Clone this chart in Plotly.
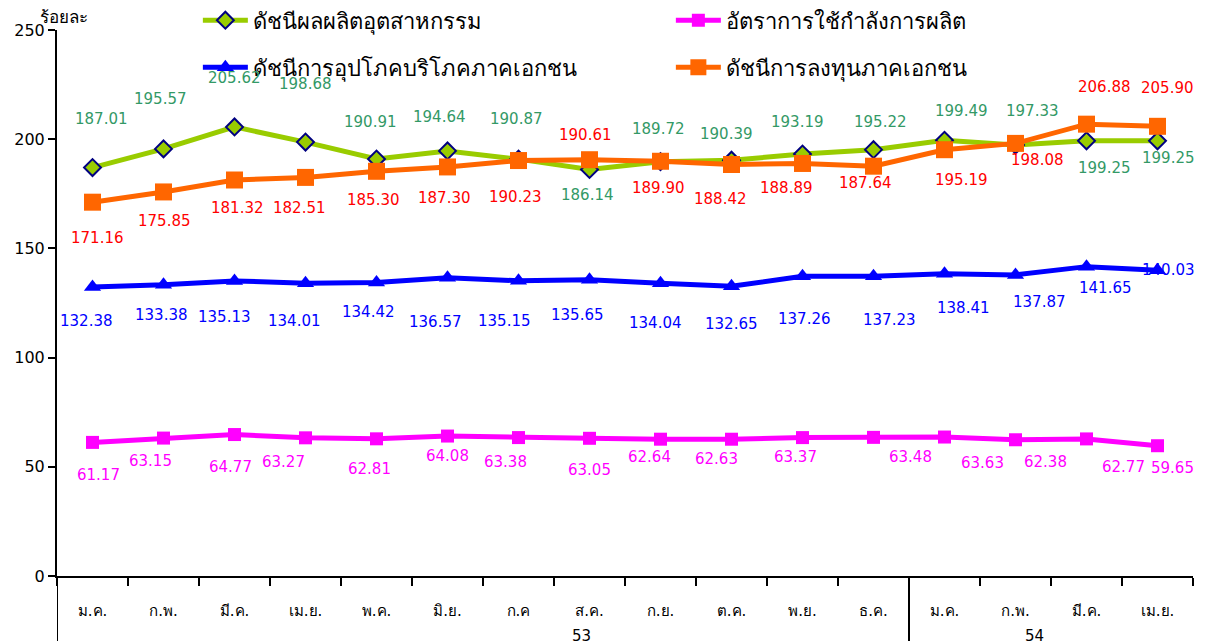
import plotly.graph_objects as go

months = ["ม.ค.", "ก.พ.", "มี.ค.", "เม.ย.", "พ.ค.", "มิ.ย.", "ก.ค", "ส.ค.",
          "ก.ย.", "ต.ค.", "พ.ย.", "ธ.ค.", "ม.ค.", "ก.พ.", "มี.ค.", "เม.ย."]
years = ["53", "54"]

industrial = [187.01, 195.57, 205.62, 198.68, 190.91, 194.64, 190.87, 186.14,
              189.72, 190.39, 193.19, 195.22, 199.49, 197.33, 199.25, 199.25]
capacity = [61.17, 63.15, 64.77, 63.27, 62.81, 64.08, 63.38, 63.05,
            62.64, 62.63, 63.37, 63.48, 63.63, 62.38, 62.77, 59.65]
consumption = [132.38, 133.38, 135.13, 134.01, 134.42, 136.57, 135.15, 135.65,
               134.04, 132.65, 137.26, 137.23, 138.41, 137.87, 141.65, 140.03]
investment = [171.16, 175.85, 181.32, 182.51, 185.30, 187.30, 190.23, 190.61,
              189.90, 188.42, 188.89, 187.64, 195.19, 198.08, 206.88, 205.90]

names = ["ดัชนีผลผลิตอุตสาหกรรม", "อัตราการใช้กำลังการผลิต",
         "ดัชนีการอุปโภคบริโภคภาคเอกชน", "ดัชนีการลงทุนภาคเอกชน"]

# label offsets (pixels): (dx, dy up)
off_ind = [(9, 49), (-3, 50), (0, 49), (0, 58), (-6, 37), (-8, 34), (-2, 40), (-2, -26),
           (-2, 33), (-5, 26), (-5, 32), (7, 28), (17, 29), (17, 34), (18, -27), (11, -17)]
off_inv = [(5, -36), (1, -29), (3, -28), (-6, -31), (-3, -29), (-3, -31), (-3, -36), (-4, 25),
           (-2, -27), (-11, -35), (-16, -25), (-8, -17), (17, -30), (22, -17), (18, 37), (10, 38)]
off_con = [(-6, -34), (-2, -30), (-10, -36), (-11, -38), (-8, -30), (-12, -44), (-14, -40), (-12, -35),
           (-5, -40), (0, -38), (2, -43), (16, -44), (19, -34), (24, -27), (19, -21), (11, 0)]
off_cap = [(6, -33), (-13, -23), (-4, -32), (-22, -24), (-7, -30), (0, -20), (-13, -24), (0, -32),
           (-11, -18), (-15, -20), (-7, -19), (37, -20), (38, -26), (30, -22), (37, -28), (15, -22)]

x = list(range(len(months)))
FONT = "Tahoma, DejaVu Sans, sans-serif"

fig = go.Figure()
fig.add_trace(go.Scatter(x=x, y=industrial, name=names[0], mode="lines+markers",
                         line=dict(color="#99cc00", width=5),
                         marker=dict(symbol="diamond", size=13, color="#99cc00",
                                     line=dict(color="#000080", width=2)),
                         legend="legend"))
fig.add_trace(go.Scatter(x=x, y=capacity, name=names[1], mode="lines+markers",
                         line=dict(color="#ff00ff", width=5),
                         marker=dict(symbol="square", size=13, color="#ff00ff"),
                         legend="legend"))
fig.add_trace(go.Scatter(x=x, y=consumption, name=names[2], mode="lines+markers",
                         line=dict(color="#0000ff", width=5),
                         marker=dict(symbol="triangle-up", size=15, color="#0000ff"),
                         legend="legend2"))
fig.add_trace(go.Scatter(x=x, y=investment, name=names[3], mode="lines+markers",
                         line=dict(color="#ff6600", width=5),
                         marker=dict(symbol="square", size=17, color="#ff6600"),
                         legend="legend2"))

annotations = []
for vals, offs, col in [(industrial, off_ind, "#339966"), (investment, off_inv, "#ff0000"),
                        (consumption, off_con, "#0000ff"), (capacity, off_cap, "#ff00ff")]:
    for i, (v, (dx, dy)) in enumerate(zip(vals, offs)):
        annotations.append(dict(x=x[i], y=v, text=f"{v:.2f}", showarrow=False,
                                xshift=dx, yshift=dy,
                                font=dict(size=15, color=col, family=FONT)))

# year labels
annotations.append(dict(x=7, y=0, yref="y", text=years[0], showarrow=False,
                        xshift=-8, yshift=-60, font=dict(size=15, color="black", family=FONT)))
annotations.append(dict(x=13, y=0, yref="y", text=years[1], showarrow=False,
                        xshift=19, yshift=-60, font=dict(size=15, color="black", family=FONT)))
# axis unit
annotations.append(dict(xref="paper", yref="paper", x=-0.017, y=1.024, xanchor="left",
                        yanchor="middle", text="ร้อยละ", showarrow=False,
                        font=dict(size=17, color="black", family=FONT)))

shapes = [
    dict(type="line", xref="x", yref="paper", x0=-0.5, x1=-0.5, y0=0, y1=-0.14,
         line=dict(color="black", width=2)),
    dict(type="line", xref="x", yref="paper", x0=11.5, x1=11.5, y0=0, y1=-0.14,
         line=dict(color="black", width=2)),
]

fig.update_layout(
    width=1206, height=641,
    margin=dict(l=49, r=21, t=22, b=73, autoexpand=False),
    paper_bgcolor="white", plot_bgcolor="white",
    font=dict(family=FONT, color="black"),
    showlegend=True,
    legend=dict(x=0.124, xanchor="left", y=1.056, yanchor="top", orientation="h",
                entrywidth=413, entrywidthmode="pixels",
                font=dict(size=22, color="black", family=FONT),
                bgcolor="rgba(0,0,0,0)", itemwidth=45),
    legend2=dict(x=0.124, xanchor="left", y=0.970, yanchor="top", orientation="h",
                 entrywidth=413, entrywidthmode="pixels",
                 font=dict(size=22, color="black", family=FONT),
                 bgcolor="rgba(0,0,0,0)", itemwidth=45),
    xaxis=dict(range=[-0.5, 15.5], tickmode="array", tickvals=x, ticktext=months,
               ticks="", showgrid=False, zeroline=False, showline=True,
               linecolor="black", linewidth=2, automargin=False,
               tickfont=dict(size=15, color="black", family=FONT),
               ticklabelstandoff=20,
               minor=dict(tickmode="array", tickvals=[i - 0.5 for i in range(len(months) + 1)],
                          ticks="outside", ticklen=8, tickwidth=2, tickcolor="black",
                          showgrid=False)),
    yaxis=dict(range=[0, 250], tickvals=[0, 50, 100, 150, 200, 250],
               ticks="outside", ticklen=7, tickwidth=2, tickcolor="black",
               showgrid=False, zeroline=False, showline=True, automargin=False,
               linecolor="black", linewidth=2,
               tickfont=dict(size=16, color="black", family=FONT)),
    annotations=annotations,
    shapes=shapes,
)

fig.write_html("out.html")
